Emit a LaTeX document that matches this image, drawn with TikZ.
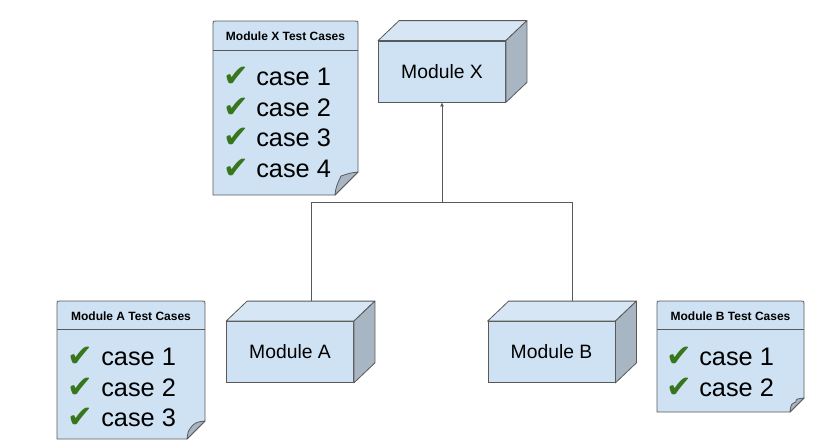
\documentclass[tikz,border=0pt]{standalone}
\usepackage{fontspec}
\setmainfont{Liberation Sans}
\newfontfamily\symfont{DejaVu Sans}
\usetikzlibrary{calc,arrows.meta}

\definecolor{boxfill}{HTML}{CFE2F3}
\definecolor{boxtop}{HTML}{D6E6F4}
\definecolor{boxside}{HTML}{A8B6C3}
\definecolor{edgegray}{HTML}{595959}
\definecolor{tickgreen}{HTML}{38761D}

% the two hidden faces of a module box
\newcommand{\cubefaces}[1]{%
  \draw[topface] (#1.north west) -- ++(21,-20) -- ($(#1.north east)+(21,-20)$) -- (#1.north east) -- cycle;
  \draw[sideface] (#1.north east) -- ++(21,-20) -- ($(#1.south east)+(21,-20)$) -- (#1.south east) -- cycle;}

% test case sheet: x1, y1, x2, y2, fold, header line
\newcommand{\casenote}[6]{%
  \draw[notebox] (#1,#4) -- (#1,{#2+3}) .. controls (#1,#2) .. ({#1+3},#2) -- ({#3-3},#2)
    .. controls (#3,#2) .. (#3,{#2+3}) -- (#3,{#4-#5}) -- ({#3-#5},#4) -- cycle;
  \draw[edgegray,line width=.6pt] (#1,#6) -- (#3,#6);
  \draw[foldcorner] ({#3-#5},#4) .. controls ({#3-#5+1},{#4-8}) .. ({#3-#5+6},{#4-#5+4})
    .. controls ({#3-8},{#4-#5+1}) .. (#3,{#4-#5}) -- cycle;}

\begin{document}
\begin{tikzpicture}[x=.75pt,y=-.75pt,
    module/.style={draw=edgegray,line width=.6pt,fill=boxfill,minimum width=95.25pt,
      minimum height=45.75pt,inner sep=0pt,font=\fontsize{14.5}{17}\selectfont},
    topface/.style={draw=edgegray,line width=.6pt,fill=boxtop,line join=round},
    sideface/.style={draw=edgegray,line width=.6pt,fill=boxside,line join=round},
    notebox/.style={draw=edgegray,line width=.6pt,fill=boxfill},
    foldcorner/.style={draw=edgegray,line width=.6pt,fill=boxside,line join=round},
    head/.style={inner sep=0pt,font=\bfseries\fontsize{9}{11}\selectfont},
    case/.style={anchor=west,inner sep=0pt,font=\fontsize{19}{22}\selectfont},
    tickmark/.style={inner sep=0pt,text=tickgreen,font=\symfont\fontsize{23}{26}\selectfont}]
  \useasboundingbox (0,0) rectangle (840,447);

  % modules
  \node[module] (modX) at (442,71.5) {Module X};
  \cubefaces{modX}
  \node[module] (modA) at (290,352) {Module A};
  \cubefaces{modA}
  \node[module] (modB) at (551.5,352) {Module B};
  \cubefaces{modB}

  % dependency tree
  \coordinate (aTop) at ($(modA.north)+(21,-20)$);
  \coordinate (bTop) at ($(modB.north)+(21,-20)$);
  \coordinate (join) at ($(modX.south)+(0,100)$);
  \draw[edgegray,line width=.6pt] (aTop) |- (join) -| (bTop);
  \draw[edgegray,line width=.6pt,-{Latex[length=3pt,width=3pt]}] (join) -- (modX.south);

  % test cases of module X
  \casenote{213}{21}{358}{195}{23}{50}
  \node[head] (headX) at (285.5,36) {Module X Test Cases};
  \foreach \i/\y in {1/77,2/107.5,3/138,4/168.5}{
    \node[tickmark] (tickX\i) at (236,\y) {✔};
    \node[case] (caseX\i) at (256,\y) {case \i};
  }

  % test cases of module A
  \casenote{57}{301}{205}{439}{18}{329}
  \node[head] (headA) at (131,316) {Module A Test Cases};
  \foreach \i/\y in {1/357,2/387.5,3/418}{
    \node[tickmark] (tickA\i) at (80,\y) {✔};
    \node[case] (caseA\i) at (101,\y) {case \i};
  }

  % test cases of module B
  \casenote{657}{301}{804}{412}{14}{329}
  \node[head] (headB) at (730.5,316) {Module B Test Cases};
  \foreach \i/\y in {1/357,2/387.5}{
    \node[tickmark] (tickB\i) at (679,\y) {✔};
    \node[case] (caseB\i) at (699,\y) {case \i};
  }
\end{tikzpicture}
\end{document}
